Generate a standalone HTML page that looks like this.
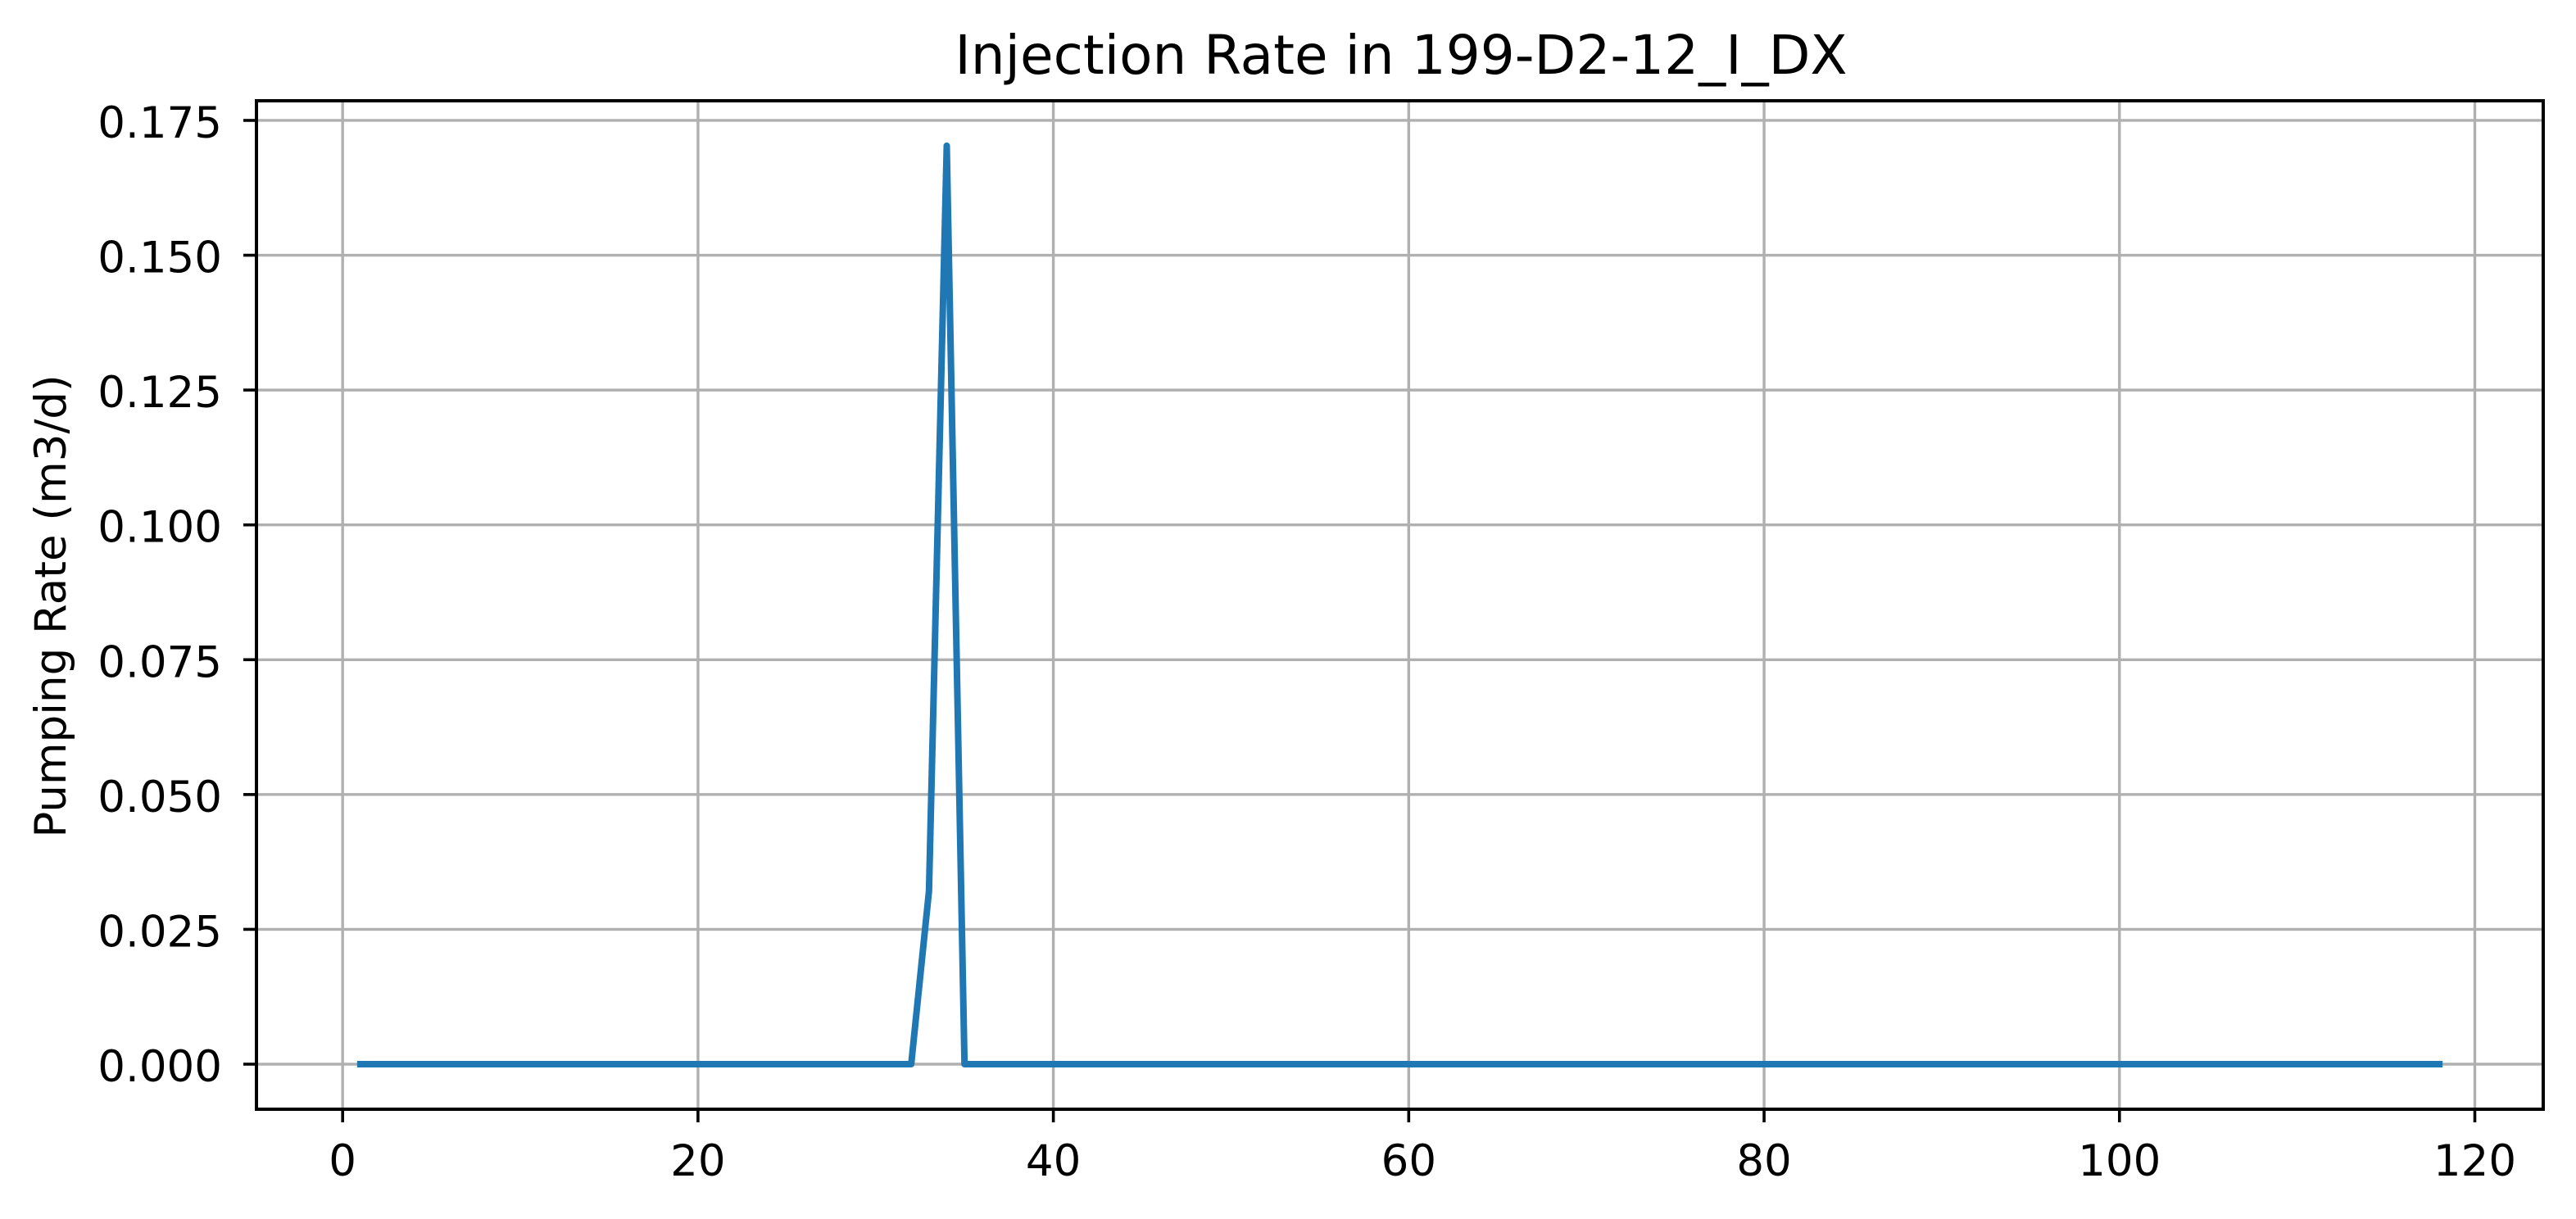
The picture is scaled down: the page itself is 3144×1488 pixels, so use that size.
<!DOCTYPE html>
<html><head><meta charset="utf-8"><style>
html,body{margin:0;padding:0;background:#fff;}
svg{display:block;font-family:"DejaVu Sans","Liberation Sans",sans-serif;}
</style></head><body>
<svg id="chart" width="3144" height="1488" viewBox="0 0 3144 1488">
<rect x="0" y="0" width="3144" height="1488" fill="#fff"/>
<g id="grid"></g>
<g id="series"></g>
<rect x="313" y="123" width="2791" height="1231" fill="none" stroke="#000" stroke-width="4"/>
<g id="ticks"></g>
<text x="1710" y="90" font-size="66" text-anchor="middle">Injection Rate in 199-D2-12_I_DX</text>
<text transform="translate(80,740) rotate(-90)" font-size="53" text-anchor="middle">Pumping Rate (m3/d)</text>
</svg>
<script>
const xValues = [];
for (let i = 1; i <= 118; i++) xValues.push(i);
const yValues = [];
for (let i = 1; i <= 118; i++) yValues.push(0);
yValues[32] = 0.0321;
yValues[33] = 0.1703;
const xTicks = [0, 20, 40, 60, 80, 100, 120];
const xTickLabels = ["0", "20", "40", "60", "80", "100", "120"];
const yTicks = [0, 0.025, 0.05, 0.075, 0.1, 0.125, 0.15, 0.175];
const yTickLabels = ["0.000", "0.025", "0.050", "0.075", "0.100", "0.125", "0.150", "0.175"];

const L = 313, R = 3104, T = 123, B = 1354;
const xMin = -4.85, xMax = 123.85;
const y0px = 1299, yPerUnit = 6583;
function sx(v){ return L + (v - xMin) / (xMax - xMin) * (R - L); }
function sy(v){ return y0px - v * yPerUnit; }
const NS = "http://www.w3.org/2000/svg";
const grid = document.getElementById('grid');
const ticks = document.getElementById('ticks');
const series = document.getElementById('series');
function mk(tag, attrs, parent){
  const e = document.createElementNS(NS, tag);
  for (const k in attrs) e.setAttribute(k, attrs[k]);
  parent.appendChild(e);
  return e;
}
xTicks.forEach((v, i) => {
  const x = sx(v);
  const g = mk('line', {x1:x, x2:x, y1:T, y2:B, stroke:'#b0b0b0', 'stroke-width':3.4}, grid);
  
  
  const t = mk('line', {x1:x, x2:x, y1:B, y2:B+16, stroke:'#000', 'stroke-width':3.6}, ticks);
  
  
  const lb = mk('text', {x:x, y:1435, 'font-size':53, 'text-anchor':'middle'}, ticks);
  lb.textContent = xTickLabels[i];
  
  
});
yTicks.forEach((v, i) => {
  const y = sy(v);
  const g = mk('line', {x1:L, x2:R, y1:y, y2:y, stroke:'#b0b0b0', 'stroke-width':3.4}, grid);
  
  
  const t = mk('line', {x1:L-16, x2:L, y1:y, y2:y, stroke:'#000', 'stroke-width':3.6}, ticks);
  
  
  const lb = mk('text', {x:L-42, y:y+21, 'font-size':53, 'text-anchor':'end'}, ticks);
  lb.textContent = yTickLabels[i];
  
  
});
const pts = xValues.map((x, i) => sx(x).toFixed(2) + ',' + sy(yValues[i]).toFixed(2)).join(' ');
const line = mk('polyline', {points:pts, fill:'none', stroke:'#1f77b4', 'stroke-width':8, 'stroke-linejoin':'round', 'stroke-linecap':'square'}, series);


</script>
</body></html>
